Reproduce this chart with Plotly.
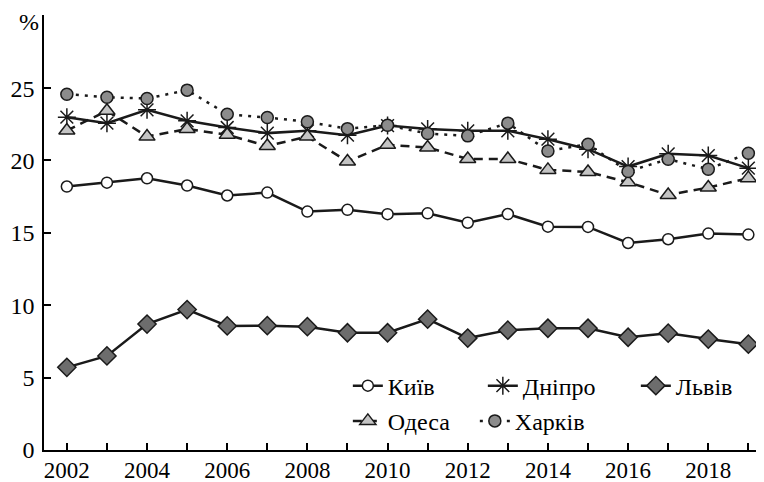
import plotly.graph_objects as go

years = list(range(2002, 2020))
tick_labels = [str(y) if y % 2 == 0 else "" for y in years]
y_ticks = [0, 5, 10, 15, 20, 25]

kyiv = [18.2, 18.47, 18.77, 18.27, 17.58, 17.78, 16.47, 16.59, 16.29, 16.35, 15.7, 16.3, 15.43, 15.41, 14.3, 14.56, 14.95, 14.88]
dnipro = [22.99, 22.58, 23.5, 22.74, 22.28, 21.89, 22.05, 21.75, 22.41, 22.18, 22.05, 22.05, 21.47, 20.78, 19.58, 20.46, 20.34, 19.47]
lviv = [5.71, 6.5, 8.7, 9.7, 8.57, 8.59, 8.52, 8.1, 8.1, 9.04, 7.73, 8.28, 8.41, 8.41, 7.79, 8.07, 7.66, 7.31]
odesa = [22.07, 23.43, 21.65, 22.18, 21.77, 21.0, 21.65, 19.93, 21.08, 20.9, 20.1, 20.1, 19.35, 19.21, 18.5, 17.62, 18.13, 18.78]
kharkiv = [24.58, 24.37, 24.28, 24.86, 23.2, 22.97, 22.67, 22.2, 22.43, 21.86, 21.7, 22.58, 20.66, 21.12, 19.24, 20.09, 19.4, 20.5]

FONT = "'Liberation Serif', 'Times New Roman', 'DejaVu Serif', serif"
LW = 2.5

fig = go.Figure()
fig.add_trace(go.Scatter(
    x=years, y=kyiv, name="Київ", mode="lines+markers",
    line=dict(color="#1a1a1a", width=LW),
    marker=dict(symbol="circle", size=11, color="white", line=dict(color="#1a1a1a", width=1.5)),
    legend="legend", legendwidth=90))
fig.add_trace(go.Scatter(
    x=years, y=dnipro, name="Дніпро", mode="lines+markers",
    line=dict(color="#1a1a1a", width=LW),
    marker=dict(symbol="asterisk-open", size=15, color="#1a1a1a", line=dict(color="#1a1a1a", width=1.5)),
    legend="legend", legendwidth=108))
fig.add_trace(go.Scatter(
    x=years, y=lviv, name="Львів", mode="lines+markers",
    line=dict(color="#1a1a1a", width=LW),
    marker=dict(symbol="diamond", size=14, color="#6d6d6d", line=dict(color="#1a1a1a", width=1.5)),
    legend="legend", legendwidth=70))
fig.add_trace(go.Scatter(
    x=years, y=odesa, name="Одеса", mode="lines+markers",
    line=dict(color="#1a1a1a", width=LW, dash="9px,6px"),
    marker=dict(symbol="triangle-up", size=14, color="#c4c4c4", line=dict(color="#1a1a1a", width=1.5)),
    legend="legend2", legendwidth=82))
fig.add_trace(go.Scatter(
    x=years, y=kharkiv, name="Харків", mode="lines+markers",
    line=dict(color="#1a1a1a", width=LW, dash="3px,6px"),
    marker=dict(symbol="circle", size=12, color="#8c8c8c", line=dict(color="#1a1a1a", width=1.5)),
    legend="legend2", legendwidth=80))

legend_common = dict(
    orientation="h", xanchor="left", yanchor="middle",
    font=dict(family=FONT, size=24, color="black"),
    bgcolor="rgba(0,0,0,0)", borderwidth=0, traceorder="normal",
)

# page body has an 8px default margin: the figure is sized so that its plot
# area lands at x 44..764, y 15..450 in the 764x482 window
fig.update_layout(
    width=756, height=474,
    margin=dict(l=36, r=0, t=7, b=32, autoexpand=False),
    paper_bgcolor="white", plot_bgcolor="white",
    font=dict(family=FONT, size=24, color="black"),
    showlegend=True,
    legend=dict(x=0.422, y=0.147, **legend_common),
    legend2=dict(x=0.422, y=0.066, **legend_common),
    xaxis=dict(
        range=[2001.43, 2019.39], tickvals=years, ticktext=tick_labels,
        ticks="inside", ticklen=7, tickwidth=1.5, tickcolor="black",
        showline=True, linecolor="black", linewidth=1.5,
        showgrid=False, zeroline=False, automargin=False,
        ticklabelstandoff=-1,
        tickfont=dict(family=FONT, size=23, color="black"),
    ),
    yaxis=dict(
        range=[0, 30.05], tickvals=y_ticks,
        ticks="inside", ticklen=7, tickwidth=1.5, tickcolor="black",
        showline=True, linecolor="black", linewidth=1.5,
        showgrid=False, zeroline=False, ticklabelstandoff=3, automargin=False,
        tickfont=dict(family=FONT, size=24, color="black"),
    ),
    annotations=[dict(
        text="%", xref="paper", yref="paper", x=-0.021, y=0.985,
        xanchor="center", yanchor="middle", showarrow=False,
        font=dict(family=FONT, size=24, color="black"))],
)

fig.write_html("out.html")
